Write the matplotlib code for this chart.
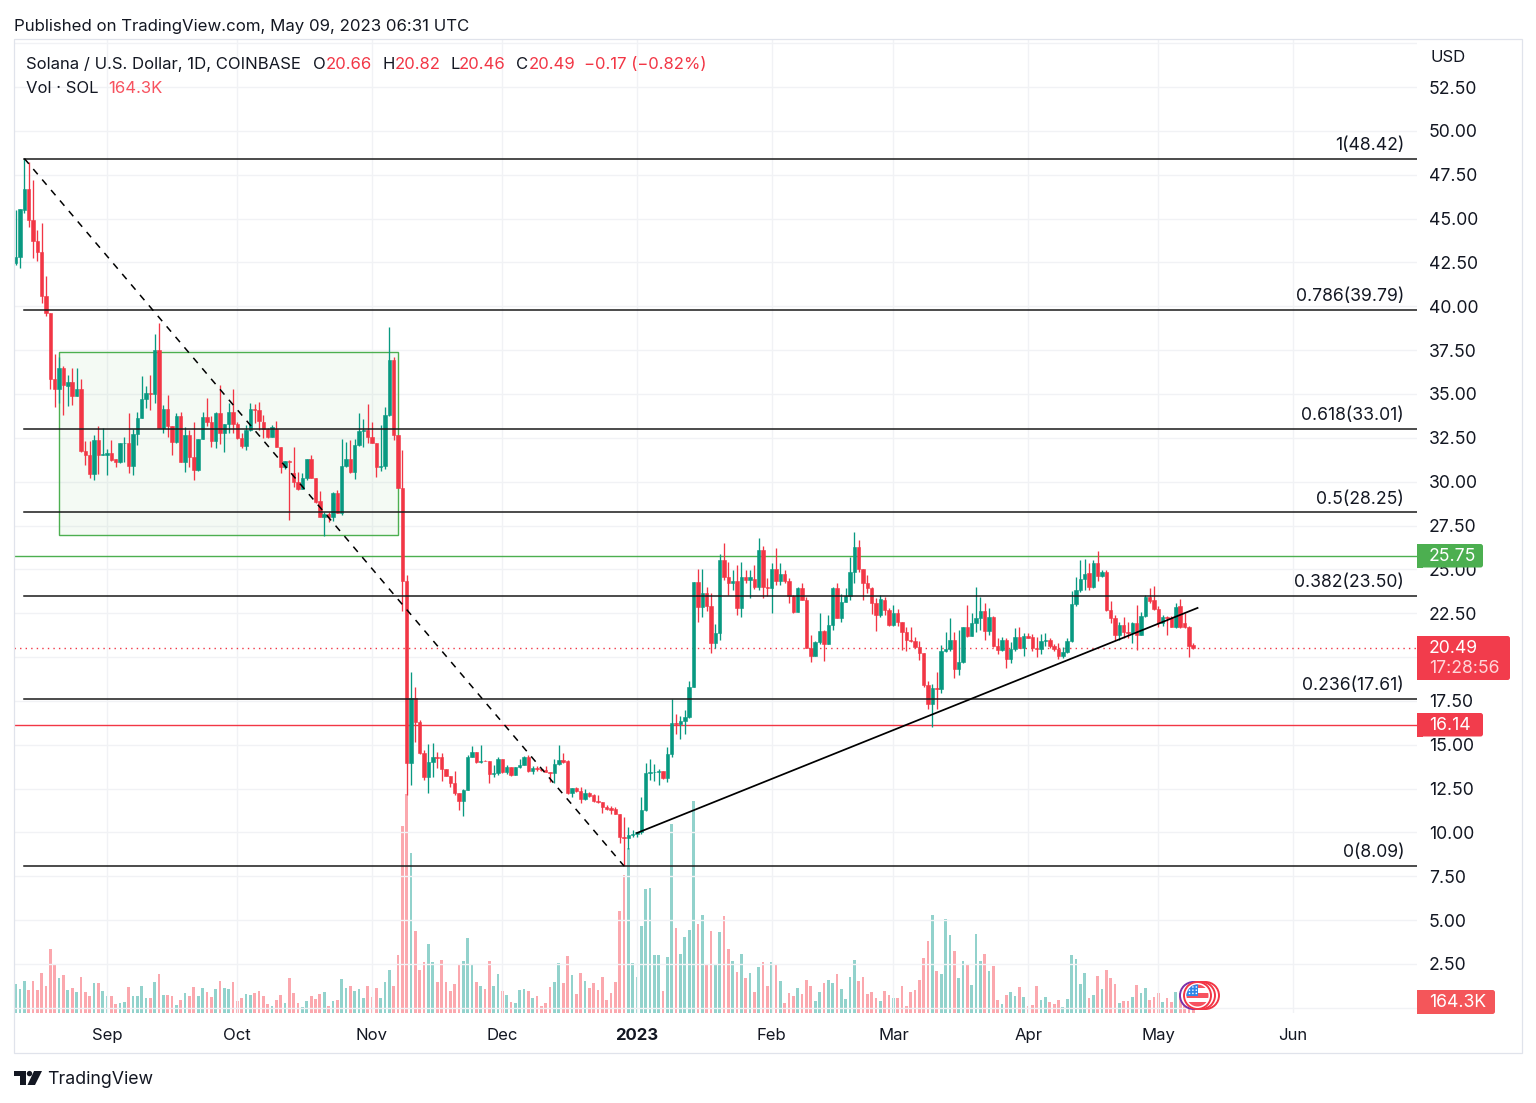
import matplotlib
matplotlib.use('Agg')
import matplotlib.pyplot as plt
from matplotlib.patches import Circle, FancyBboxPatch, Polygon, Rectangle

plt.rcParams['font.family'] = ['Inter', 'DejaVu Sans']

# daily candles, Aug 11 2022 to May 9 2023
opens = [
    42.49, 42.83, 45.5, 46.67, 44.92, 43.74, 43.1, 40.6, 39.6, 35.83,
    35.3, 36.5, 35.45, 35.7, 34.9, 35.3, 31.77, 31.54, 30.44, 32.4,
    31.5, 31.5, 31.65, 31.27, 31.1, 32.2, 32.2, 30.9, 32.72, 33.65,
    34.7, 35.07, 35, 37.5, 33.04, 34.12, 33.17, 32.26, 33.74, 31.12,
    32.66, 31.43, 30.67, 32.45, 33.71, 33.42, 32.34, 33.93, 32.76, 33.29,
    33.97, 33.29, 32.47, 32.03, 32.95, 34.12, 34.09, 33.42, 32.98, 32.56,
    33, 32, 30.82, 31.2, 30.47, 30, 29.56, 30.19, 31.27, 30.19,
    28.9, 28, 28.14, 28, 29.33, 28.24, 30.9, 31.31, 30.57, 32.09,
    32.91, 32.95, 32.57, 32.22, 30.85, 30.9, 33.78, 36.94, 32.66, 29.62,
    24.35, 13.97, 17.64, 16.31, 14.55, 13.18, 13.99, 14.28, 14.28, 13.61,
    13.23, 12.8, 12.26, 11.81, 12.42, 14.32, 14.58, 14.01, 14.1, 14.07,
    13.33, 13.37, 14.18, 13.46, 13.71, 13.27, 13.71, 13.85, 14.32, 13.52,
    13.65, 13.6, 13.56, 13.42, 13.37, 13.88, 14.13, 14.05, 12.26, 12.51,
    12.38, 11.92, 12.23, 12.13, 11.77, 11.73, 11.47, 11.38, 11.35, 11.08,
    9.76, 9.66, 9.87, 9.9, 10, 11.28, 13.37, 13.43, 13.46, 13.5,
    13.08, 14.47, 16.25, 16.18, 16.37, 16.6, 18.31, 24.26, 22.87, 23.63,
    22.9, 20.78, 21.39, 25.53, 24.58, 24.24, 24.35, 22.77, 24.54, 24.4,
    24.45, 24, 26.1, 23.97, 23.93, 25, 24.33, 24.71, 24.35, 23.48,
    22.58, 23.91, 23.25, 20.49, 20.07, 20.87, 21.5, 20.74, 21.82, 23.91,
    22.24, 23.15, 23.48, 24.86, 26.29, 25, 24.2, 23.91, 23.06, 22.39,
    23.25, 22.68, 21.82, 22.53, 22, 21.44, 20.97, 20.93, 20.59, 20.25,
    18.4, 17.32, 18.21, 18.17, 20.36, 20.44, 20.97, 19.33, 19.73, 21.69,
    21.2, 21.92, 22.2, 22.64, 21.48, 22.3, 20.63, 20.4, 20.97, 19.88,
    20.44, 21.12, 20.53, 21.2, 21.12, 20.53, 20.45, 20.91, 20.97, 20.63,
    20.44, 20.06, 20.3, 20.91, 23, 23.82, 24.45, 24.77, 24, 25.38,
    24.6, 24.86, 22.68, 22.2, 21.25, 21.82, 21.44, 21.39, 21.96, 21.25,
    22.34, 23.4, 23.25, 22.72, 21.92, 22.3, 22.2, 21.73, 22.9, 21.96,
    21.69, 20.66,
]
closes = [
    42.83, 45.56, 46.67, 44.92, 43.74, 43.1, 40.6, 39.6, 35.83, 35.3,
    36.5, 35.5, 35.7, 34.9, 35.3, 31.77, 31.54, 30.44, 32.4, 31.5,
    31.55, 31.65, 31.24, 31.1, 32.2, 32.22, 30.9, 32.72, 33.65, 34.7,
    35.07, 35, 37.51, 33.04, 34.12, 33.17, 32.26, 33.74, 31.12, 32.66,
    31.43, 30.67, 32.45, 33.71, 33.42, 32.34, 33.93, 32.76, 33.29, 33.97,
    33.29, 32.47, 32.03, 32.95, 34.12, 34.09, 33.48, 32.98, 32.56, 33.1,
    32, 30.82, 31.2, 31.14, 30, 29.56, 30.19, 31.27, 30.19, 28.86,
    28, 28.14, 28, 29.33, 28.24, 30.9, 31.31, 30.57, 32.09, 32.91,
    32.95, 32.57, 32.22, 30.85, 30.9, 33.78, 36.94, 32.66, 29.62, 24.35,
    13.97, 17.64, 16.31, 14.55, 13.18, 13.99, 14.28, 14.24, 13.61, 13.23,
    12.8, 12.26, 11.81, 12.42, 14.32, 14.58, 14.01, 14.1, 14.07, 13.33,
    13.37, 14.18, 13.46, 13.71, 13.27, 13.71, 13.85, 14.32, 13.52, 13.65,
    13.6, 13.56, 13.42, 13.37, 13.88, 14.13, 14.01, 12.26, 12.51, 12.38,
    11.92, 12.23, 12.08, 11.77, 11.73, 11.47, 11.35, 11.3, 11.08, 9.76,
    9.66, 9.87, 9.9, 10, 11.28, 13.37, 13.43, 13.46, 13.52, 13.08,
    14.47, 16.25, 16.18, 16.37, 16.6, 18.31, 24.26, 22.87, 23.63, 22.9,
    20.78, 21.39, 25.53, 24.58, 24.24, 24.35, 22.77, 24.54, 24.4, 24.54,
    24, 26.1, 23.97, 23.93, 25, 24.33, 24.71, 24.35, 23.48, 22.58,
    23.91, 23.25, 20.49, 20.07, 20.87, 21.5, 20.74, 21.82, 23.91, 22.24,
    23.15, 23.48, 24.86, 26.29, 25, 24.2, 23.91, 23.06, 22.39, 23.29,
    22.68, 21.82, 22.53, 22, 21.44, 20.97, 20.93, 20.59, 20.25, 18.4,
    17.32, 18.21, 18.17, 20.36, 20.44, 20.97, 19.33, 19.73, 21.69, 21.2,
    21.92, 22.2, 22.64, 21.48, 22.3, 20.63, 20.4, 20.97, 19.88, 20.44,
    21.12, 20.53, 21.2, 21.06, 20.49, 20.45, 20.91, 20.97, 20.63, 20.44,
    20.06, 20.3, 20.91, 23, 23.82, 24.45, 24.73, 24, 25.38, 24.6,
    24.86, 22.68, 22.2, 21.25, 21.82, 21.44, 21.39, 21.96, 21.25, 22.34,
    23.44, 23.2, 22.72, 21.92, 22.3, 22.2, 21.73, 22.83, 21.69, 21.69,
    20.63, 20.49,
]
highs = [
    45.5, 45.56, 48.42, 48.2, 47.2, 44.35, 44.77, 41.7, 39.6, 37.3,
    37.1, 36.6, 36.1, 36.46, 36.5, 35.83, 32.3, 32.3, 32.66, 33.2,
    33.04, 31.85, 32.4, 31.27, 32.2, 32.56, 33.9, 32.98, 33.99, 36.02,
    35.45, 36.08, 38.42, 39.03, 34.37, 34.94, 33.2, 33.9, 33.99, 33.14,
    32.95, 33.42, 32.45, 33.99, 34.75, 33.74, 33.99, 35.51, 33.29, 34.47,
    35.26, 33.4, 32.76, 33.23, 34.5, 34.43, 34.56, 33.8, 33.04, 33.21,
    33.48, 32, 31.2, 31.23, 32, 30.57, 30.5, 31.27, 31.52, 30.19,
    29.49, 28.29, 28.29, 29.43, 29.52, 32.41, 32.28, 32.38, 32.41, 33.9,
    33.55, 34.43, 33.42, 32.22, 33.23, 34.28, 38.84, 37.09, 32.66, 31.8,
    24.67, 19.16, 18.27, 16.4, 14.7, 15.04, 15.08, 14.6, 14.54, 13.61,
    13.23, 13.5, 12.26, 12.5, 14.41, 14.93, 14.58, 14.96, 14.12, 14.07,
    13.84, 14.32, 14.2, 13.84, 13.71, 13.74, 14.17, 14.36, 14.42, 13.8,
    13.78, 13.62, 13.8, 13.42, 14.18, 14.98, 14.54, 14.13, 12.51, 12.61,
    12.57, 12.45, 12.3, 12.17, 12.13, 11.73, 11.55, 11.5, 11.43, 11.08,
    10.9, 10.29, 10.16, 10.04, 12, 13.94, 14.2, 13.9, 13.6, 13.5,
    14.89, 17.59, 16.75, 16.63, 16.98, 18.65, 24.26, 25, 25, 23.97,
    23.67, 21.88, 25.87, 26.48, 25.43, 24.96, 25.24, 25.43, 24.96, 24.96,
    25.24, 26.76, 26.33, 24.48, 25.34, 26.2, 25.34, 24.96, 24.48, 23.53,
    24, 24.24, 23.4, 21.25, 20.91, 22.5, 21.54, 22.4, 24, 24.2,
    23.59, 23.91, 25.72, 27.14, 26.67, 25, 24.67, 24, 23.34, 23.53,
    23.4, 22.77, 22.96, 22.72, 22, 21.73, 21.73, 21.15, 20.93, 20.25,
    18.63, 18.44, 19.16, 20.68, 21.44, 22.2, 21.44, 21.54, 21.73, 22.96,
    22.53, 23.97, 23.4, 23.06, 22.77, 22.34, 21.06, 21.16, 21.06, 20.87,
    21.63, 21.69, 21.35, 21.35, 21.31, 21.12, 21.31, 21.35, 21.06, 20.74,
    20.78, 20.55, 21.06, 23.78, 24.54, 25.53, 25.57, 25.34, 25.53, 26.04,
    24.96, 24.96, 23.19, 22.39, 22.01, 22.26, 22.01, 22.01, 22.96, 22.58,
    23.53, 23.91, 24.05, 22.9, 22.39, 22.34, 22.34, 23.06, 23.3, 22.49,
    21.77, 20.82,
]
lows = [
    42.35, 42.2, 45.3, 44.54, 42.73, 42.6, 40.2, 39.45, 35.3, 34.28,
    34.5, 33.8, 34.3, 34.37, 34.9, 31.7, 30.95, 30.2, 30.1, 30.44,
    31.5, 30.38, 31.2, 30.85, 31.08, 31.14, 30.48, 30.38, 32.09, 33.61,
    34.18, 34.09, 34.5, 33.04, 32.76, 32.56, 31.52, 32.2, 31.12, 30.57,
    30.86, 30.09, 30.63, 32.45, 33.17, 31.96, 31.9, 32.15, 31.71, 32.76,
    32.76, 32.42, 31.94, 31.81, 32.9, 33.33, 32.95, 32.47, 32.47, 32.53,
    31.96, 30.5, 30.7, 27.8, 29.72, 29.53, 29.56, 30.09, 30.19, 28.8,
    28, 26.9, 27.72, 27.77, 28.2, 28.1, 30.86, 30.52, 30.13, 32.04,
    32, 32.22, 32.19, 30.27, 30.63, 30.7, 33.74, 32.38, 29.62, 22.6,
    12.13, 12.7, 15.17, 14.5, 13, 12.26, 13.18, 13.65, 12.95, 13.2,
    12.6, 12.13, 11.28, 10.95, 12.42, 14.28, 13.95, 13.97, 14.05, 12.83,
    13.18, 13.27, 13.4, 13.35, 13.24, 13.25, 13.65, 13.82, 13.46, 13.35,
    13.5, 13.5, 13.42, 12.9, 12.83, 13.85, 13.97, 12.22, 12, 12.32,
    11.7, 11.85, 12, 11.72, 11.67, 11.12, 11.27, 11.08, 11.05, 9.41,
    8.09, 9.03, 9.72, 9.76, 9.9, 11.24, 12.99, 12.95, 12.7, 13.06,
    12.89, 14.32, 15.6, 15.3, 15.6, 16.55, 18.31, 22, 22.3, 22.6,
    20.25, 20.5, 20.97, 24.39, 23.53, 23.82, 22.39, 22.26, 24.2, 23.38,
    23.9, 23.82, 23.34, 23.48, 22.53, 24.1, 24.1, 24.24, 23.06, 22.53,
    22.54, 23.25, 20.49, 19.73, 20.06, 20.74, 19.79, 20.74, 21.54, 22.2,
    22, 23.15, 23.25, 24.2, 24.86, 23.25, 23.63, 22.45, 21.48, 22.26,
    22.4, 21.77, 21.77, 21.77, 20.4, 20.36, 20.87, 20.49, 19.83, 18.31,
    17.02, 16.03, 17.02, 17.93, 20.3, 20.36, 18.78, 18.97, 19.64, 21.15,
    21.2, 21.44, 21.54, 21, 21.25, 20.59, 20.17, 20.36, 19.39, 19.64,
    20.36, 20.49, 20.07, 21.06, 20.36, 19.98, 20.2, 20.63, 20.49, 20.36,
    19.87, 19.93, 20.25, 20.87, 22.9, 23.72, 23.85, 23.85, 23.91, 24.35,
    24.54, 22.64, 21.96, 21, 21, 21.06, 21.06, 20.82, 20.4, 21.25,
    22.26, 23.06, 22.68, 21.73, 21.77, 21.25, 21.69, 21.63, 21.63, 21.63,
    20, 20.46,
]
# volume in thousands of SOL
volumes = [
    440, 355, 480, 340, 480, 340, 600, 405, 950, 715,
    525, 575, 340, 375, 310, 535, 310, 250, 450, 450,
    330, 250, 260, 130, 145, 170, 385, 250, 260, 400,
    220, 220, 460, 580, 270, 270, 260, 120, 190, 300,
    250, 385, 260, 375, 310, 240, 365, 485, 375, 365,
    460, 175, 220, 290, 270, 300, 330, 260, 140, 110,
    200, 270, 145, 525, 300, 155, 90, 185, 250, 205,
    280, 310, 110, 175, 195, 515, 375, 400, 335, 365,
    230, 400, 240, 375, 230, 460, 635, 410, 865, 2790,
    3270, 2390, 1225, 640, 755, 1035, 755, 460, 790, 460,
    325, 430, 715, 770, 1120, 730, 460, 405, 355, 780,
    410, 590, 335, 270, 160, 145, 345, 365, 325, 220,
    250, 100, 155, 385, 470, 740, 450, 850, 565, 280,
    595, 485, 375, 450, 345, 535, 195, 300, 470, 1530,
    2055, 2470, 745, 540, 1305, 1850, 1870, 870, 870, 330,
    840, 2820, 1275, 885, 1140, 1245, 3160, 1335, 1465, 735,
    1220, 735, 1210, 1445, 955, 780, 615, 885, 520, 605,
    315, 680, 755, 405, 765, 735, 480, 150, 300, 255,
    370, 285, 495, 405, 185, 310, 445, 495, 445, 585,
    360, 210, 540, 785, 485, 540, 285, 315, 225, 180,
    330, 270, 225, 225, 405, 105, 315, 345, 495, 820,
    1080, 1465, 630, 585, 1410, 1170, 925, 520, 775, 735,
    420, 1185, 780, 885, 630, 705, 190, 130, 270, 315,
    255, 385, 235, 105, 120, 405, 190, 235, 160, 135,
    190, 85, 210, 860, 805, 435, 605, 225, 265, 555,
    360, 640, 530, 435, 150, 180, 180, 235, 415, 300,
    380, 195, 235, 300, 165, 225, 165, 320, 300, 230,
    250, 164.3,
]

month_ticks = [21, 51, 82, 112, 143, 174, 202, 233, 263, 294]
month_labels = ['Sep', 'Oct', 'Nov', 'Dec', '2023', 'Feb', 'Mar', 'Apr', 'May', 'Jun']
price_ticks = [0, 2.5, 5, 7.5, 10, 12.5, 15, 17.5, 20, 22.5, 25, 27.5, 30, 32.5,
               35, 37.5, 40, 42.5, 45, 47.5, 50, 52.5, 55]
price_labels = ['', '2.50', '5.00', '7.50', '10.00', '12.50', '15.00', '17.50', '',
                '22.50', '25.00', '27.50', '30.00', '32.50', '35.00', '37.50',
                '40.00', '42.50', '45.00', '47.50', '50.00', '52.50', '']

fib_ratios = ['1', '0.786', '0.618', '0.5', '0.382', '0.236', '0']
fib_prices = [48.42, 39.79, 33.01, 28.25, 23.50, 17.61, 8.09]

# drawings: (bar, price) pairs
fib_start_bar = 2
swing_line = [(2, 48.42), (140, 8.09)]
trend_line = [(143, 9.97), (272, 22.8)]
range_box = (10, 88, 26.93, 37.42)
resistance = 25.75
support = 16.14
last_close = 20.49

WIDTH, HEIGHT = 1536, 1103
LEFT, RIGHT, TOP, BOTTOM = 14, 1417, 39, 1013
BAR_PX = 4.345
PRICE_PX = 17.54
VOL_PX = 14.94

GREEN = '#089981'
RED = '#F23645'
BADGE_RED = '#F23C4C'
TEXT = '#131722'
GRID = '#F1F2F5'
BORDER = '#E0E3EB'
NUM_SIZE = 12.7


def badge(ov, x, y, w, h, color):
    """
    Label box with rounded corners on the right side only.
    """
    ov.add_patch(FancyBboxPatch((x, y), w, h, boxstyle='round,pad=0,rounding_size=2.5',
                                facecolor=color, edgecolor='none', zorder=5))
    ov.add_patch(Rectangle((x, y), 6, h, facecolor=color, edgecolor='none', zorder=5))


def draw_candles(ax):
    """
    Wicks and bodies, coloured by the direction of the day.
    """
    xs = list(range(len(closes)))
    colors = [GREEN if c >= o else RED for o, c in zip(opens, closes)]
    ax.vlines(xs, lows, highs, colors=colors, linewidth=0.95, zorder=3)
    bottoms = [min(o, c) for o, c in zip(opens, closes)]
    heights = [abs(c - o) for o, c in zip(opens, closes)]
    ax.bar(xs, heights, bottom=bottoms, width=0.78, color=colors, edgecolor=colors,
           linewidth=0.4, zorder=4)


def draw_volume(ax_vol):
    xs = list(range(len(volumes)))
    colors = ['#92D2CC' if c >= o else '#FBA8AE' for o, c in zip(opens, closes)]
    ax_vol.bar(xs, volumes, width=0.62, color=colors, linewidth=0)


def draw_drawings(ax):
    for ratio, price in zip(fib_ratios, fib_prices):
        ax.plot([fib_start_bar, 400], [price, price], color='#1a1a1a', linewidth=1.1, zorder=5)
        ax.annotate('%s(%.2f)' % (ratio, price), xy=(1, price), xycoords=ax.get_yaxis_transform(),
                    xytext=(-9.2, 9.6), textcoords='offset points', ha='right', va='center',
                    fontsize=NUM_SIZE, color=TEXT, zorder=6)

    x0, x1, y0, y1 = range_box
    ax.add_patch(Rectangle((x0, y0), x1 - x0, y1 - y0, facecolor=(0.3, 0.69, 0.31, 0.06),
                           edgecolor='#4CAF50', linewidth=1.0, zorder=2))
    ax.axhline(resistance, color='#4CAF50', linewidth=1.0, zorder=2)
    ax.axhline(support, color='#F23645', linewidth=1.0, zorder=2)
    ax.axhline(last_close, color='#F23645', linewidth=1.0, linestyle=(0, (1, 3)), zorder=2)

    ax.plot(*zip(*swing_line), color='black', linewidth=1.1, linestyle=(0, (4.5, 4.5)), zorder=5)
    ax.plot(*zip(*trend_line), color='black', linewidth=1.25, zorder=5)


def draw_flag(ov):
    """
    Country icon that sits on the last bar, drawn in pixel coordinates.
    """
    cx, cy = 1197.5, 995.5
    ov.add_patch(Circle((cx - 4, cy), 13.5, facecolor='white', edgecolor='#7B2FA8', linewidth=1.4, zorder=6))
    for dx in (8, 4):
        ov.add_patch(Circle((cx + dx, cy), 13.5, facecolor='white', edgecolor='#F23645', linewidth=1.4, zorder=6))
    ring = Circle((cx, cy), 13.5, facecolor='white', edgecolor='#F23645', linewidth=1.4, zorder=7)
    ov.add_patch(ring)
    inner = Circle((cx, cy), 11, facecolor='white', edgecolor='none', zorder=7)
    ov.add_patch(inner)
    for y0, y1 in [(984, 988), (993, 998), (1002, 1007)]:
        stripe = Rectangle((cx - 12, y0), 24, y1 - y0, facecolor='#F7525F', edgecolor='none', zorder=8)
        ov.add_patch(stripe)
        stripe.set_clip_path(inner)
    canton = Rectangle((cx - 12, cy - 12), 12.5, 12.5, facecolor='#2E86E8', edgecolor='none', zorder=9)
    ov.add_patch(canton)
    canton.set_clip_path(inner)
    for row in range(3):
        for col in range(3):
            ov.add_patch(Circle((cx - 8 + col * 3.4, cy - 8.5 + row * 3.2), 0.8, facecolor='white',
                                edgecolor='none', zorder=10))


def draw_chrome(fig):
    """
    Everything outside the data: header, legend, badges, frame and logo.
    """
    ov = fig.add_axes([0, 0, 1, 1], zorder=10)
    ov.set_xlim(0, WIDTH)
    ov.set_ylim(HEIGHT, 0)
    ov.axis('off')
    ov.patch.set_visible(False)

    ov.add_patch(Rectangle((LEFT, TOP), 1522 - LEFT, 1053 - TOP, facecolor='none',
                           edgecolor=BORDER, linewidth=0.9))

    ov.text(14, 26.5, 'Published on TradingView.com, May 09, 2023 06:31 UTC', fontsize=12.1,
            color=TEXT, va='center')
    ov.text(1431, 58, 'USD', fontsize=12, color=TEXT, va='center')

    legend = [
        (26, 'Solana / U.S. Dollar, 1D, COINBASE', TEXT), (313, 'O', TEXT), (326, '20.66', RED),
        (382, 'H', TEXT), (395, '20.82', RED), (450, 'L', TEXT), (459, '20.46', RED),
        (516, 'C', TEXT), (529, '20.49', RED), (584, '\u22120.17 (\u22120.82%)', RED),
    ]
    for x, label, color in legend:
        ov.text(x, 64.5, label, fontsize=12, color=color, va='center')
    ov.text(26, 88.5, 'Vol \u00b7 SOL', fontsize=12, color=TEXT, va='center')
    ov.text(108, 88.5, '164.3K', fontsize=12, color='#F7525F', va='center')

    badge(ov, RIGHT, 544, 66, 23.5, '#4CAF50')
    ov.text(1429, 556.5, '25.75', fontsize=NUM_SIZE, color='white', va='center', zorder=6)
    badge(ov, RIGHT, 636, 93, 44, BADGE_RED)
    ov.text(1429, 648.5, '20.49', fontsize=NUM_SIZE, color='white', va='center', zorder=6)
    ov.text(1429, 668.5, '17:28:56', fontsize=NUM_SIZE, color='#FFD5D9', va='center', zorder=6)
    badge(ov, RIGHT, 713, 66, 23.5, BADGE_RED)
    ov.text(1429, 725.5, '16.14', fontsize=NUM_SIZE, color='white', va='center', zorder=6)
    badge(ov, RIGHT, 990, 78, 24, '#F4565A')
    ov.text(1429, 1002.5, '164.3K', fontsize=NUM_SIZE, color='white', va='center', zorder=6)

    draw_flag(ov)

    # logo
    ov.add_patch(Polygon([(14, 1071), (26, 1071), (26, 1085), (20, 1085), (20, 1076), (14, 1076)],
                         facecolor=TEXT, edgecolor='none'))
    ov.add_patch(Circle((29.5, 1073.6), 2.7, facecolor=TEXT, edgecolor='none'))
    ov.add_patch(Polygon([(34, 1071), (42, 1071), (35, 1085), (27.5, 1085)], facecolor=TEXT, edgecolor='none'))
    ov.text(47, 1079.5, 'TradingView', fontsize=12.8, color=TEXT, va='center')


def main():
    fig = plt.figure(figsize=(WIDTH / 100.0, HEIGHT / 100.0), dpi=100)
    ax = fig.add_axes([LEFT / WIDTH, (HEIGHT - BOTTOM) / HEIGHT,
                       (RIGHT - LEFT) / WIDTH, (BOTTOM - TOP) / HEIGHT])

    # axis limits follow the pixel scale of the chart
    ax.set_xlim(-0.39, (RIGHT - 15.7) / BAR_PX)
    ax.set_ylim(2.5 - (BOTTOM - 964) / PRICE_PX, 2.5 + (964 - TOP) / PRICE_PX)

    ax_vol = ax.twinx()
    ax_vol.set_ylim(0, (BOTTOM - TOP) * VOL_PX)
    ax_vol.set_yticks([])
    ax_vol.tick_params(length=0)
    for spine in ax_vol.spines.values():
        spine.set_visible(False)
    ax.set_zorder(ax_vol.get_zorder() + 1)
    ax.patch.set_visible(False)
    ax_vol.patch.set_facecolor('white')

    draw_volume(ax_vol)
    draw_candles(ax)
    draw_drawings(ax)

    for spine in ax.spines.values():
        spine.set_visible(False)
    ax.yaxis.tick_right()
    ax.set_yticks(price_ticks, labels=price_labels)
    ax.set_xticks(month_ticks, labels=month_labels)
    ax.tick_params(axis='both', length=0, labelcolor=TEXT)
    ax.tick_params(axis='y', pad=8.6, labelsize=NUM_SIZE)
    ax.tick_params(axis='x', pad=11, labelsize=12)
    for tick in ax.get_yticklabels():
        tick.set_ha('left')
    ax.get_xticklabels()[month_labels.index('2023')].set_fontweight('bold')
    ax.grid(True, color=GRID, linewidth=1.0, zorder=0)
    ax.set_axisbelow(True)

    draw_chrome(fig)

    fig.savefig('out.png', dpi=100, facecolor='white')


# entry point
if __name__ == '__main__':
    main()
